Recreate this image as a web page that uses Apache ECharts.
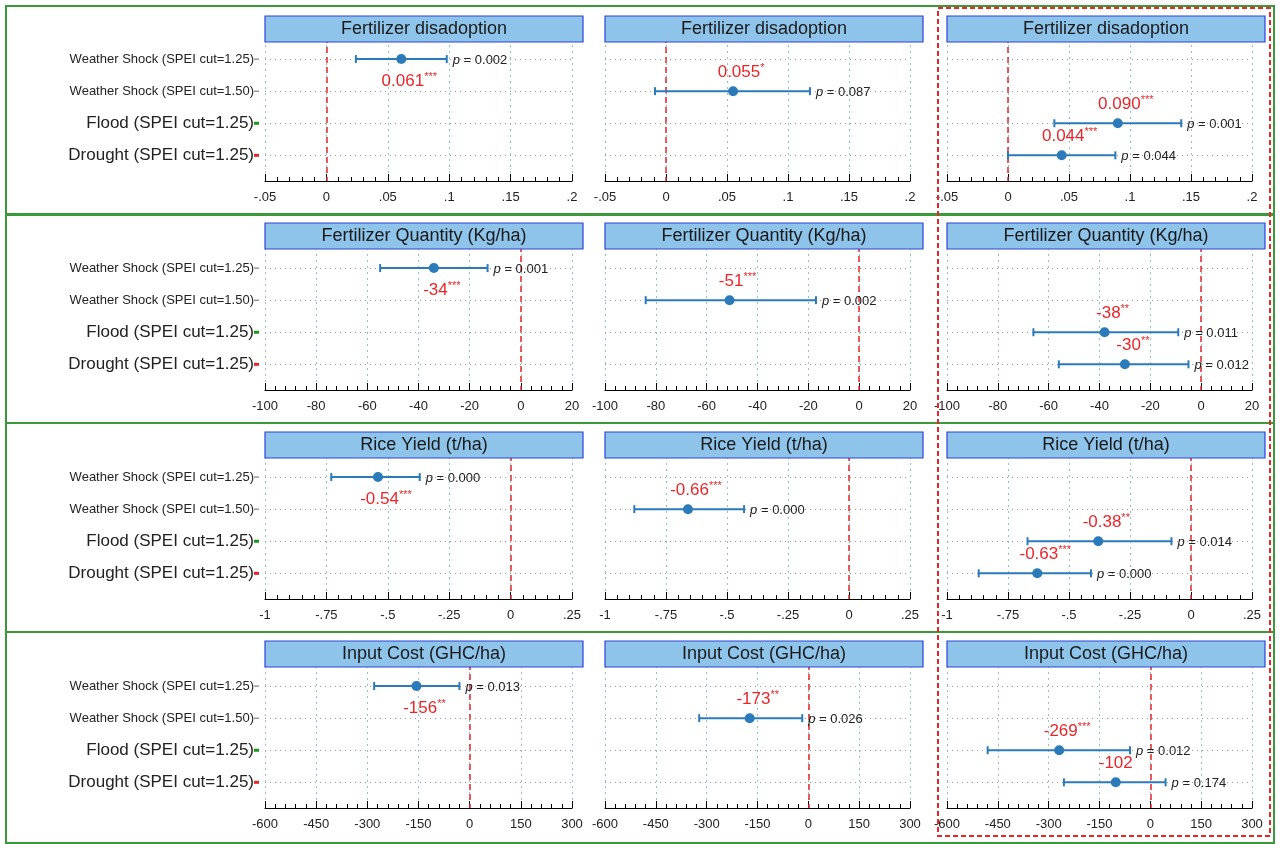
<!DOCTYPE html>
<html><head><meta charset="utf-8">
<script src="https://cdn.jsdelivr.net/npm/echarts@6/dist/echarts.min.js"></script>
<style>html,body{margin:0;padding:0;background:#fff}#c{width:1280px;height:844px}</style>
</head><body><div id="c"></div>
<script>
const rowTitles = ['Fertilizer disadoption','Fertilizer Quantity (Kg/ha)','Rice Yield (t/ha)','Input Cost (GHC/ha)'];
const xMin = [-0.05, -100, -1, -600];
const xMax = [0.2, 20, 0.25, 300];
const xInterval = [0.05, 20, 0.25, 150];
const categories = ['Weather Shock (SPEI cut=1.25)','Weather Shock (SPEI cut=1.50)','Flood (SPEI cut=1.25)','Drought (SPEI cut=1.25)'];
// per row, per category (cat0 -> col1, cat1 -> col2, cat2,cat3 -> col3)
const estimates = [[0.061,0.055,0.090,0.044],[-34,-51,-38,-30],[-0.54,-0.66,-0.38,-0.63],[-156,-173,-269,-102]];
const ciLow = [[0.024,-0.009,0.038,0.000],[-55,-84,-66,-56],[-0.73,-0.88,-0.67,-0.87],[-280,-322,-480,-255]];
const ciHigh = [[0.098,0.118,0.142,0.088],[-13,-17,-9,-5],[-0.37,-0.43,-0.08,-0.41],[-30,-18,-60,45]];
const estLabels = [['0.061','0.055','0.090','0.044'],['-34','-51','-38','-30'],['-0.54','-0.66','-0.38','-0.63'],['-156','-173','-269','-102']];
const stars = [['***','*','***','***'],['***','***','**','**'],['***','***','**','***'],['**','**','***','']];
const pValues = [['0.002','0.087','0.001','0.044'],['0.001','0.002','0.011','0.012'],['0.000','0.000','0.014','0.000'],['0.013','0.026','0.012','0.174']];
const catColumn = [0,1,2,2];

const colLeft = [265, 605, 947];
const colWidth = [307, 305, 305];
const rowStep = 209;
const FONT = '"Liberation Sans", Arial, sans-serif';

function fmtTick(v, r){
  if (r===0 || r===2){
    let s = String(+v.toFixed(3));
    return s.replace(/^(-?)0\./,'$1.');
  }
  return String(Math.round(v));
}

const grids=[], xAxes=[], yAxes=[], series=[], graphics=[];
for (let r=0;r<4;r++){
  const top = 27 + r*rowStep;
  for (let c=0;c<3;c++){
    const gi = r*3+c;
    grids.push({left:colLeft[c], top:top, width:colWidth[c], height:154});
    xAxes.push({type:'value', gridIndex:gi, min:xMin[r], max:xMax[r], interval:xInterval[r],
      axisLine:{show:true, onZero:false, lineStyle:{color:'#000', width:1.2}},
      axisTick:{show:true, inside:true, length:7, lineStyle:{color:'#000'}},
      minorTick:{show:true, splitNumber:5, length:4, lineStyle:{color:'#000'}},
      axisLabel:{color:'#222', fontSize:13, fontFamily:FONT, margin:10, formatter:v=>fmtTick(v,r)},
      splitLine:{show:true, lineStyle:{color:'#8cc7c7', type:[2,4], width:1}}});
    yAxes.push({type:'value', gridIndex:gi, inverse:true, min:0, max:4.8, interval:1,
      axisLine:{show:false}, axisTick:{show:false}, splitLine:{show:false},
      axisLabel:{show:c===0, margin:6, fontFamily:FONT, color:'#222',
        formatter:v=>{ if(v===1) return '{s|'+categories[0]+'}{k|}'; if(v===2) return '{s|'+categories[1]+'}{k|}';
          if(v===3) return '{b|'+categories[2]+'}{g|}'; if(v===4) return '{b|'+categories[3]+'}{rd|}'; return ''; },
        rich:{s:{fontSize:13,fontFamily:FONT,color:'#222'}, b:{fontSize:17,fontFamily:FONT,color:'#222'},
          k:{width:5,height:1,backgroundColor:'#666'}, g:{width:5,height:3,backgroundColor:'#1a9a1a'}, rd:{width:5,height:3,backgroundColor:'#e8262a'}}}});
    // data for this panel
    const data=[];
    for (let i=0;i<4;i++){ if(catColumn[i]===c) data.push([ciLow[r][i], ciHigh[r][i], i+1, estimates[r][i], i]); }
    const labelBelow = (c===0);
    series.push({type:'custom', xAxisIndex:gi, yAxisIndex:gi, data:data, z:5,
      renderItem:(params, api)=>{
        const lo=api.coord([api.value(0), api.value(2)]);
        const hi=api.coord([api.value(1), api.value(2)]);
        const es=api.coord([api.value(3), api.value(2)]);
        const i=api.value(4);
        const col='#2b7bba';
        return {type:'group', children:[
          {type:'line', shape:{x1:lo[0],y1:lo[1],x2:hi[0],y2:hi[1]}, style:{stroke:col,lineWidth:2}},
          {type:'line', shape:{x1:lo[0],y1:lo[1]-4,x2:lo[0],y2:lo[1]+4}, style:{stroke:col,lineWidth:2}},
          {type:'line', shape:{x1:hi[0],y1:hi[1]-4,x2:hi[0],y2:hi[1]+4}, style:{stroke:col,lineWidth:2}},
          {type:'circle', shape:{cx:es[0],cy:es[1],r:5}, style:{fill:col}},
          {type:'text', style:{text:'{a|'+estLabels[r][i]+'}{t|'+stars[r][i]+'}', x:es[0]+(stars[r][i]?8:0), y:es[1]+(labelBelow?22:-19),
            align:'center', verticalAlign:'middle',
            rich:{a:{fontSize:17,fontFamily:FONT,fill:'#e8262a'}, t:{fontSize:11,fontFamily:FONT,fill:'#e8262a',padding:[0,0,8,0]}}}},
          {type:'text', style:{text:'{i|p} = '+pValues[r][i], x:hi[0]+6, y:hi[1]+1, align:'left', verticalAlign:'middle',
            rich:{i:{fontSize:13,fontStyle:'italic',fontFamily:FONT,fill:'#222'}}, fontSize:13, fontFamily:FONT, fill:'#222'}}
        ]};
      }});
    series.push({type:'scatter', xAxisIndex:gi, yAxisIndex:gi, data:[], silent:true,
      markLine:{silent:true, symbol:'none', label:{show:false}, animation:false,
        data:[{xAxis:0, lineStyle:{color:'#e8262a', type:[6,4], width:1.5}},
          ...[1,2,3,4].map(v=>({yAxis:v, lineStyle:{color:'#999', type:[1,4], width:1}}))]}});
    // title box
    const bl=colLeft[c], bw=(c===0?318:318);
    graphics.push({type:'rect', z:100, shape:{x:bl, y:16+r*rowStep+ (r>0? -2:0), width:bw, height:26},
      style:{fill:'#8ec3ea', stroke:'#2d44d6', lineWidth:1.2}});
    graphics.push({type:'text', z:101, x:bl+bw/2, y:29+r*rowStep+(r>0?-2:0),
      style:{text:rowTitles[r], fill:'#1a1a1a', font:'18px '+FONT, align:'center', verticalAlign:'middle'}});
  }
  graphics.push({type:'rect', z:90, shape:{x:6, y:6+r*rowStep-(r>0?1:0), width:1268, height:rowStep-(r===3?-2:0)},
    style:{fill:'none', stroke:'#3a9a3a', lineWidth:2}});
}
graphics.push({type:'rect', z:95, shape:{x:938, y:8, width:332, height:828},
  style:{fill:'none', stroke:'#e8262a', lineWidth:2, lineDash:[5,3]}});

const chart = echarts.init(document.getElementById('c'));
chart.setOption({animation:false, grid:grids, xAxis:xAxes, yAxis:yAxes, series:series, graphic:graphics});
</script></body></html>
